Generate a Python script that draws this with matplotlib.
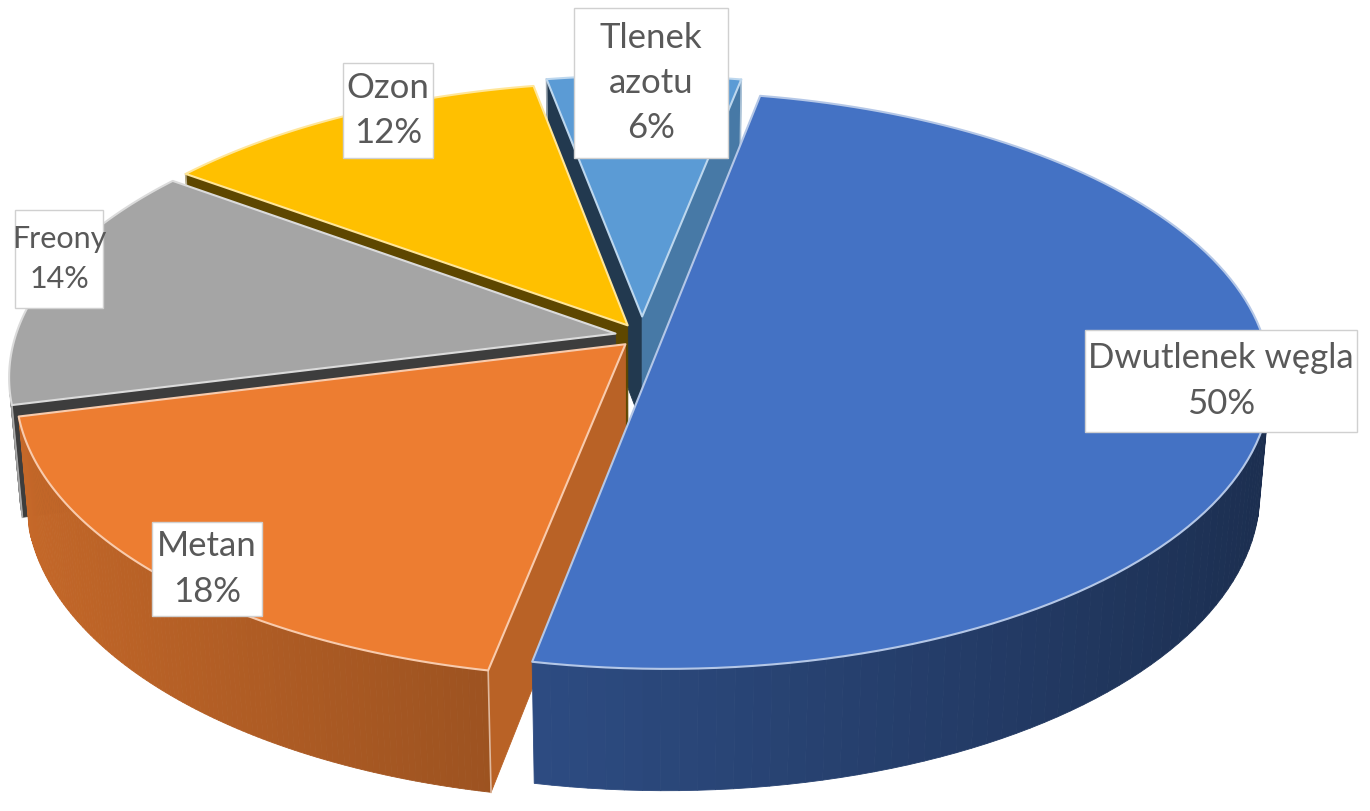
import matplotlib.pyplot as plt
import numpy as np
from matplotlib.patches import Polygon, Rectangle
from matplotlib.colors import to_rgb

# data
labels = ['Dwutlenek węgla', 'Metan', 'Freony', 'Ozon', 'Tlenek\nazotu']
shares = [50, 18, 14, 12, 6]
colors = ['#4472C4', '#ED7D31', '#A5A5A5', '#FFC000', '#5B9BD5']

# label boxes (x0, y0, x1, y1 in pixels), label font size, slice explosion
label_box = [(1085, 330, 1357, 432), (152, 522, 262, 616), (15, 210, 103, 308),
             (343, 63, 433, 158), (574, 8, 728, 158)]
label_size = [25, 25, 22, 25, 25]
explode = [0.035, 0.04, 0.045, 0.045, 0.07]

# view of the 3d pie
ELEV = np.radians(28)
DIST = 6.0
SCALE = 600
CX, CY = 642, 336
START = 11.0      # first slice angle, clockwise from 12 o'clock
THICK = 0.21
CAM = DIST * np.array([0, -np.cos(ELEV), np.sin(ELEV)])


def project(x, y, z):
    su = y * np.sin(ELEV) + z * np.cos(ELEV)
    dz = -y * np.cos(ELEV) + z * np.sin(ELEV)
    f = DIST / (DIST - dz)
    return CX + x * f * SCALE, CY - su * f * SCALE, dz


def shade(c, k):
    return tuple(np.clip(np.array(to_rgb(c)) * k, 0, 1))


def tint(c, k):
    r = np.array(to_rgb(c))
    return tuple(r + (1 - r) * k)


fig = plt.figure(figsize=(13.7, 8.11), dpi=100)
ax = fig.add_axes([0, 0, 1, 1])
ax.set_xlim(0, 1370)
ax.set_ylim(811, 0)
ax.axis('off')

walls = []   # (depth, polygon xy, color, edge line)
tops = []

bounds = START + np.concatenate([[0], np.cumsum(shares)]) * 3.6
for i, col in enumerate(colors):
    a0, a1 = bounds[i], bounds[i + 1]
    mid = np.radians((a0 + a1) / 2)
    ox, oy = explode[i] * np.sin(mid), explode[i] * np.cos(mid)
    th = np.radians(np.linspace(a0, a1, 120))
    rx, ry = ox + np.sin(th), oy + np.cos(th)

    # top face
    px, py, _ = project(np.r_[ox, rx], np.r_[oy, ry], 0.0)
    tops.append((np.c_[px, py], col))

    # outer wall, split into thin strips
    for j in range(len(th) - 1):
        mt = (th[j] + th[j + 1]) / 2
        n = np.array([np.sin(mt), np.cos(mt), 0])
        p = np.array([ox + np.sin(mt), oy + np.cos(mt), -THICK / 2])
        if n @ (CAM - p) <= 0:
            continue
        xs = [rx[j], rx[j + 1], rx[j + 1], rx[j]]
        ys = [ry[j], ry[j + 1], ry[j + 1], ry[j]]
        zs = [0, 0, -THICK, -THICK]
        qx, qy, qd = project(np.array(xs), np.array(ys), np.array(zs))
        k = 0.62 - 0.22 * np.sin(mt)
        walls.append((qd.mean(), np.c_[qx, qy], shade(col, k), None))

    # radial cut faces
    for a, sgn in ((a0, -1), (a1, 1)):
        ar = np.radians(a)
        n = sgn * np.array([np.cos(ar), -np.sin(ar), 0])
        p = np.array([ox + 0.5 * np.sin(ar), oy + 0.5 * np.cos(ar), -THICK / 2])
        if n @ (CAM - p) <= 0:
            continue
        ex, ey = ox + np.sin(ar), oy + np.cos(ar)
        xs = np.array([ox, ex, ex, ox])
        ys = np.array([oy, ey, ey, oy])
        zs = np.array([0, 0, -THICK, -THICK])
        qx, qy, qd = project(xs, ys, zs)
        k = 0.37 + 0.41 * np.clip((n[0] - 0.3) / 0.6, 0, 1)
        walls.append((qd.mean() - 0.05, np.c_[qx, qy], shade(col, k),
                      (qx[1:3], qy[1:3])))

walls.sort(key=lambda w: w[0])
for d, xy, c, edge in walls:
    ax.add_patch(Polygon(xy, closed=True, fc=c, ec=c, lw=0.6, zorder=1))
    if edge:
        ax.plot(edge[0], edge[1], color=tint(c, 0.55), lw=1.2, zorder=1.5)

for xy, col in tops:
    ax.add_patch(Polygon(xy, closed=True, fc=col, ec=tint(col, 0.6),
                         lw=1.5, joinstyle='round', zorder=2))

for lab, s, (x0, y0, x1, y1), fs in zip(labels, shares, label_box, label_size):
    ax.add_patch(Rectangle((x0, y0), x1 - x0, y1 - y0, fc='white',
                           ec='#d0d0d0', lw=1, zorder=4))
    ax.text((x0 + x1) / 2, (y0 + y1) / 2, f'{lab}\n{s}%', ha='center',
            va='center', fontsize=fs, family='Lato', color='#595959',
            linespacing=1.5, zorder=5)

fig.savefig('out.png', dpi=100)
